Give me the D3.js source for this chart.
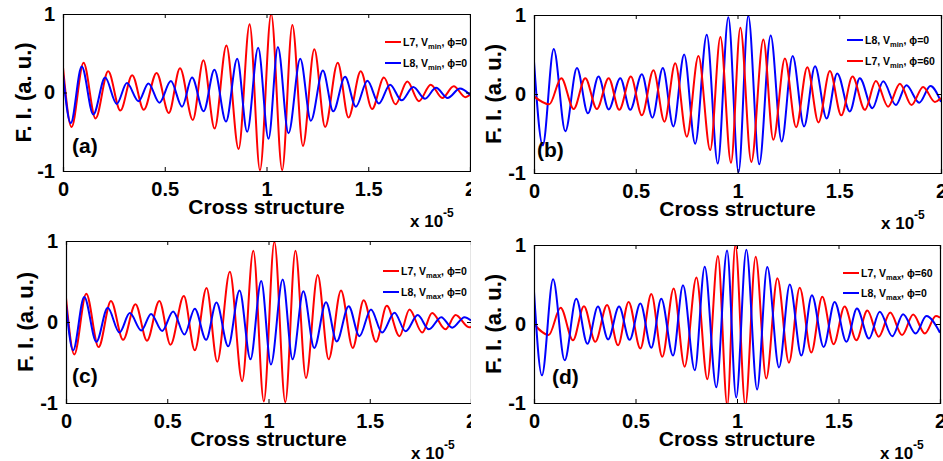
<!DOCTYPE html>
<html>
<head>
<meta charset="utf-8">
<script src="https://cdn.jsdelivr.net/npm/d3@7"></script>
<style>
body{margin:0;background:#fff;}
svg{display:block;font-family:"Liberation Sans",Arial,Helvetica,sans-serif;font-weight:bold;}
</style>
</head>
<body>
<div id="fig"></div>
<script>
// extrema: [x (x 1e-5), field intensity]
var aL7 = [[0,0.32],[0.042,-0.44],[0.101,0.38],[0.16,-0.33],[0.222,0.27],[0.282,-0.23],[0.34,0.22],[0.397,-0.22],[0.46,0.25],[0.52,-0.26],[0.575,0.31],[0.638,-0.35],[0.69,0.41],[0.745,-0.46],[0.803,0.6],[0.863,-0.72],[0.917,0.87],[0.968,-0.99],[1.023,1.0],[1.077,-0.99],[1.127,0.86],[1.179,-0.68],[1.235,0.55],[1.288,-0.44],[1.35,0.38],[1.403,-0.32],[1.463,0.27],[1.519,-0.21],[1.577,0.19],[1.634,-0.15],[1.692,0.14],[1.749,-0.11],[1.807,0.1],[1.864,-0.07],[1.92,0.08],[1.978,-0.06],[2,-0.03]];
var aL8 = [[0,0.23],[0.038,-0.39],[0.092,0.33],[0.149,-0.28],[0.207,0.19],[0.264,-0.145],[0.314,0.12],[0.371,-0.11],[0.42,0.115],[0.474,-0.13],[0.53,0.145],[0.585,-0.18],[0.634,0.19],[0.691,-0.24],[0.744,0.29],[0.801,-0.37],[0.856,0.43],[0.905,-0.5],[0.959,0.57],[1.01,-0.59],[1.056,0.58],[1.108,-0.52],[1.166,0.43],[1.218,-0.36],[1.277,0.28],[1.328,-0.24],[1.386,0.2],[1.439,-0.18],[1.496,0.15],[1.552,-0.14],[1.607,0.1],[1.664,-0.1],[1.721,0.07],[1.779,-0.08],[1.833,0.06],[1.89,-0.07],[1.951,0.05],[2,-0.03]];

var bL8 = [[0,0.41],[0.043,-0.65],[0.097,0.57],[0.154,-0.47],[0.211,0.33],[0.265,-0.245],[0.317,0.22],[0.367,-0.195],[0.424,0.2],[0.473,-0.2],[0.53,0.25],[0.582,-0.3],[0.633,0.33],[0.685,-0.41],[0.738,0.5],[0.792,-0.63],[0.849,0.75],[0.903,-0.88],[0.955,0.97],[1.005,-0.99],[1.053,0.99],[1.107,-0.89],[1.163,0.74],[1.217,-0.6],[1.271,0.48],[1.327,-0.41],[1.381,0.35],[1.438,-0.31],[1.49,0.26],[1.552,-0.22],[1.601,0.2],[1.663,-0.18],[1.716,0.16],[1.778,-0.14],[1.83,0.11],[1.893,-0.11],[1.948,0.1],[2,-0.1]];
var bL7 = [[0,-0.03],[0.075,-0.13],[0.134,0.2],[0.195,-0.19],[0.252,0.2],[0.309,-0.19],[0.367,0.2],[0.419,-0.2],[0.476,0.22],[0.53,-0.27],[0.587,0.3],[0.641,-0.35],[0.694,0.39],[0.751,-0.54],[0.808,0.48],[0.866,-0.71],[0.916,0.72],[0.968,-0.87],[1.014,0.84],[1.068,-0.86],[1.127,0.69],[1.176,-0.58],[1.233,0.45],[1.288,-0.42],[1.343,0.34],[1.398,-0.36],[1.454,0.29],[1.51,-0.27],[1.565,0.22],[1.626,-0.2],[1.68,0.165],[1.74,-0.16],[1.798,0.13],[1.855,-0.14],[1.912,0.09],[1.97,-0.1],[2,-0.05]];

var cL7 = [[0,0.3],[0.041,-0.4],[0.1,0.35],[0.161,-0.31],[0.222,0.26],[0.282,-0.22],[0.343,0.22],[0.4,-0.23],[0.461,0.26],[0.516,-0.28],[0.582,0.32],[0.636,-0.35],[0.694,0.42],[0.747,-0.49],[0.809,0.62],[0.87,-0.73],[0.925,0.88],[0.977,-0.98],[1.029,0.99],[1.083,-0.99],[1.133,0.88],[1.185,-0.69],[1.243,0.58],[1.297,-0.46],[1.358,0.39],[1.416,-0.32],[1.47,0.27],[1.531,-0.245],[1.584,0.2],[1.647,-0.175],[1.696,0.155],[1.759,-0.13],[1.808,0.11],[1.874,-0.09],[1.924,0.085],[1.99,-0.065],[2,-0.06]];
var cL8 = [[0,0.22],[0.035,-0.35],[0.09,0.31],[0.15,-0.245],[0.206,0.175],[0.264,-0.13],[0.315,0.11],[0.372,-0.105],[0.42,0.1],[0.475,-0.11],[0.529,0.13],[0.585,-0.155],[0.636,0.165],[0.692,-0.22],[0.743,0.24],[0.801,-0.3],[0.857,0.39],[0.911,-0.46],[0.964,0.505],[1.012,-0.525],[1.07,0.525],[1.119,-0.46],[1.172,0.38],[1.226,-0.32],[1.284,0.245],[1.337,-0.24],[1.396,0.195],[1.449,-0.175],[1.506,0.155],[1.561,-0.13],[1.622,0.115],[1.677,-0.115],[1.737,0.085],[1.792,-0.09],[1.853,0.06],[1.907,-0.07],[1.968,0.06],[2,0.02]];

var dL7 = [[0,0.0],[0.072,-0.14],[0.131,0.205],[0.192,-0.205],[0.246,0.225],[0.302,-0.225],[0.36,0.24],[0.414,-0.27],[0.466,0.28],[0.524,-0.31],[0.578,0.38],[0.632,-0.415],[0.688,0.45],[0.742,-0.54],[0.8,0.59],[0.854,-0.7],[0.906,0.86],[0.952,-1.03],[0.992,1.0],[1.041,-1.03],[1.092,0.85],[1.144,-0.69],[1.199,0.58],[1.256,-0.49],[1.309,0.46],[1.366,-0.36],[1.42,0.345],[1.476,-0.255],[1.53,0.22],[1.588,-0.205],[1.642,0.17],[1.698,-0.16],[1.755,0.145],[1.813,-0.14],[1.868,0.12],[1.925,-0.12],[1.98,0.1],[2,0.08]];
var dL8 = [[0,0.41],[0.039,-0.65],[0.094,0.565],[0.151,-0.46],[0.208,0.32],[0.263,-0.25],[0.315,0.22],[0.365,-0.195],[0.419,0.22],[0.471,-0.2],[0.524,0.26],[0.578,-0.3],[0.627,0.32],[0.685,-0.4],[0.734,0.49],[0.792,-0.585],[0.841,0.725],[0.898,-0.8],[0.951,0.93],[0.996,-0.93],[1.046,0.94],[1.099,-0.83],[1.149,0.72],[1.207,-0.55],[1.26,0.5],[1.317,-0.4],[1.369,0.365],[1.427,-0.29],[1.481,0.28],[1.539,-0.225],[1.591,0.195],[1.65,-0.185],[1.703,0.155],[1.765,-0.155],[1.818,0.125],[1.88,-0.12],[1.933,0.1],[2,-0.11]];

var xTicks = [0, 0.5, 1, 1.5, 2];
var xTickLabels = ["0", "0.5", "1", "1.5", "2"];
var yTicks = [-1, 0, 1];
var yTickLabels = ["-1", "0", "1"];
var xTitle = "Cross structure";
var yTitle = "F. I. (a. u.)";

var RED = "#ff0000", BLUE = "#0000ff";

// one entry per sub figure: where it sits and which curves it carries
var panels = [
	{tag:"(a)", box:[0,0,471,230], x0:63, x1:470, y0:14, y1:171, ylab:31, tagAt:[72,153], leg:[385,42,21],
	 series:[{d:aL7, c:RED, l:"L7", v:"min", phi:"0"}, {d:aL8, c:BLUE, l:"L8", v:"min", phi:"0"}]},
	{tag:"(b)", box:[471,0,472,230], x0:534, x1:941, y0:15, y1:173, ylab:501, tagAt:[537,157], leg:[847,40,21],
	 series:[{d:bL8, c:BLUE, l:"L8", v:"min", phi:"0"}, {d:bL7, c:RED, l:"L7", v:"min", phi:"60"}]},
	{tag:"(c)", box:[0,230,471,231], x0:66, x1:471, y0:241, y1:403, ylab:33, tagAt:[72,383], leg:[383,271,21],
	 series:[{d:cL7, c:RED, l:"L7", v:"max", phi:"0"}, {d:cL8, c:BLUE, l:"L8", v:"max", phi:"0"}]},
	{tag:"(d)", box:[471,230,472,231], x0:534, x1:940, y0:245, y1:403, ylab:501, tagAt:[552,384], leg:[843,273,20],
	 series:[{d:dL7, c:RED, l:"L7", v:"max", phi:"60"}, {d:dL8, c:BLUE, l:"L8", v:"max", phi:"0"}]}
];

var W = 943, H = 461;
var svg = d3.select("#fig").append("svg").attr("width", W).attr("height", H);
var defs = svg.append("defs");

panels.forEach(function(p, i){
	var x = d3.scaleLinear().domain([0, 2]).range([p.x0, p.x1]);
	var y = d3.scaleLinear().domain([-1, 1]).range([p.y1, p.y0]);

	defs.append("clipPath").attr("id", "box" + i).append("rect")
		.attr("x", p.box[0]).attr("y", p.box[1]).attr("width", p.box[2]).attr("height", p.box[3]);
	defs.append("clipPath").attr("id", "plot" + i).append("rect")
		.attr("x", p.x0).attr("y", p.y0).attr("width", p.x1 - p.x0).attr("height", p.y1 - p.y0);

	var g = svg.append("g").attr("clip-path", "url(#box" + i + ")");

	// curves
	var line = d3.line().x(function(d){ return x(d[0]); }).y(function(d){ return y(d[1]); })
		.curve(d3.curveMonotoneX);
	var cg = g.append("g").attr("clip-path", "url(#plot" + i + ")");
	p.series.forEach(function(s){
		cg.append("path").datum(s.d).attr("d", line)
			.attr("fill", "none").attr("stroke", s.c).attr("stroke-width", 2)
			.attr("stroke-linejoin", "round");
	});

	// axes, ticks point inward like matlab
	var bottom = g.append("g").attr("transform", "translate(0," + p.y1 + ")")
		.call(d3.axisBottom(x).tickValues(xTicks).tickSize(-4).tickPadding(8)
			.tickFormat(function(d, k){ return xTickLabels[k]; }));
	var top = g.append("g").attr("transform", "translate(0," + p.y0 + ")")
		.call(d3.axisTop(x).tickValues(xTicks).tickSize(-4).tickFormat(""));
	var left = g.append("g").attr("transform", "translate(" + p.x0 + ",0)")
		.call(d3.axisLeft(y).tickValues(yTicks).tickSize(-4).tickPadding(8)
			.tickFormat(function(d, k){ return yTickLabels[k]; }));
	var right = g.append("g").attr("transform", "translate(" + p.x1 + ",0)")
		.call(d3.axisRight(y).tickValues(yTicks).tickSize(-4).tickFormat(""));
	[bottom, top, left, right].forEach(function(a){
		a.select(".domain").attr("stroke", "#000").attr("stroke-width", 1.2);
		a.selectAll(".tick line").attr("stroke", "#000");
		a.selectAll("text").attr("font-family", null).attr("font-size", 20).attr("fill", "#000");
	});
	bottom.selectAll("text").attr("dy", "0.85em");

	// titles
	g.append("text").attr("x", (p.x0 + p.x1) / 2).attr("y", p.y1 + 43)
		.attr("text-anchor", "middle").attr("font-size", 21).text(xTitle);
	g.append("text").attr("transform", "translate(" + p.ylab + "," + (p.y0 + p.y1) / 2 + ") rotate(-90)")
		.attr("text-anchor", "middle").attr("font-size", 22).text(yTitle);

	var ex = g.append("text").attr("x", p.x1 - 60).attr("y", p.y1 + 56).attr("font-size", 17);
	ex.append("tspan").text("x 10");
	ex.append("tspan").attr("dy", -10).attr("font-size", 12).text("-5");

	g.append("text").attr("x", p.tagAt[0]).attr("y", p.tagAt[1]).attr("font-size", 21).text(p.tag);

	// legend
	p.series.forEach(function(s, k){
		var ly = p.leg[1] + k * p.leg[2];
		g.append("line").attr("x1", p.leg[0]).attr("x2", p.leg[0] + 16)
			.attr("y1", ly).attr("y2", ly).attr("stroke", s.c).attr("stroke-width", 2);
		var t = g.append("text").attr("x", p.leg[0] + 18).attr("y", ly + 4).attr("font-size", 10.5);
		t.append("tspan").text(s.l + ", V");
		t.append("tspan").attr("dy", 3).attr("font-size", 7.5).text(s.v);
		t.append("tspan").attr("dy", -3).text(", \u03d5=" + s.phi);
	});
});
</script>
</body>
</html>
